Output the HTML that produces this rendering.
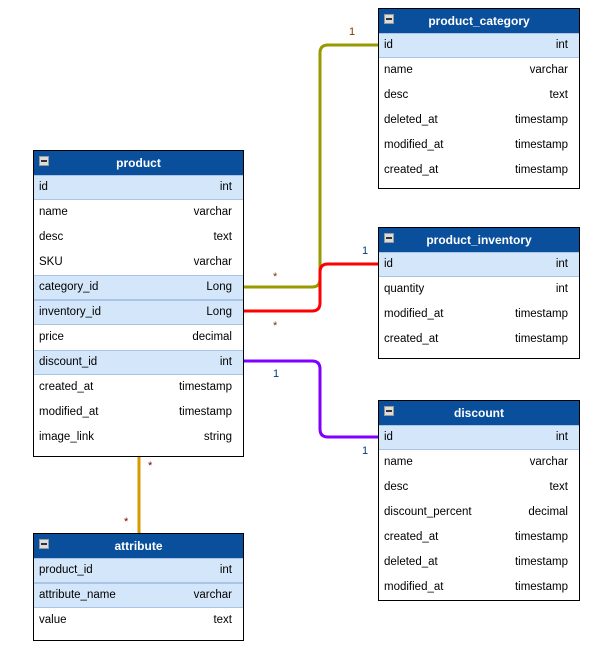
<!DOCTYPE html>
<html><head><style>
body{margin:0;width:594px;height:648px;background:#fff;position:relative;font-family:"Liberation Sans",Arial,sans-serif;font-size:11.5px;color:#000;overflow:hidden}
.t{position:absolute;background:#fff;border:1px solid #000;box-sizing:border-box}
.h{height:24px;background:#0a4f9c;color:#fff;font-weight:bold;font-size:12px;text-align:center;line-height:24px;position:relative}
.h i{position:absolute;left:5px;top:5px;width:8px;height:8px;background:#ddd;border:1px solid #999}
.h i:after{content:"";position:absolute;left:1px;top:3px;width:6px;height:2px;background:#333}
.r{height:25px;line-height:25px;padding:0 11px 0 5px;display:flex;justify-content:space-between}
.s{background:#d4e6fa;border-top:1px solid #a9c4e6;border-bottom:1px solid #a9c4e6;box-sizing:border-box;line-height:23px}
.l{position:absolute;font-size:11px}
</style></head><body>
<svg width="594" height="648" style="position:absolute;left:0;top:0" fill="none" stroke-width="3">
<path d="M244 287 H312 Q320 287 320 279 V53 Q320 45 328 45 H378" stroke="#999900"/>
<path d="M244 311 H312 Q320 311 320 303 V272 Q320 264 328 264 H378" stroke="#ff0000"/>
<path d="M244 361 H312 Q320 361 320 369 V429 Q320 437 328 437 H378" stroke="#8000ff"/>
<path d="M139 456 V533" stroke="#d79b00"/>
</svg>
<div class="l" style="left:349px;top:26px;color:#7a3800">1</div>
<div class="l" style="left:273px;top:271px;color:#7a3800">*</div>
<div class="l" style="left:362px;top:245px;color:#003a80">1</div>
<div class="l" style="left:273px;top:320px;color:#7a3800">*</div>
<div class="l" style="left:273px;top:368px;color:#003a80">1</div>
<div class="l" style="left:362px;top:445px;color:#003a80">1</div>
<div class="l" style="left:148px;top:460px;color:#7a0000">*</div>
<div class="l" style="left:124px;top:516px;color:#7a0000">*</div>

<div class="t" style="left:33px;top:150px;width:211px;height:307px">
<div class="h"><i></i>product</div>
<div class="r s"><span>id</span><span>int</span></div>
<div class="r"><span>name</span><span>varchar</span></div>
<div class="r"><span>desc</span><span>text</span></div>
<div class="r"><span>SKU</span><span>varchar</span></div>
<div class="r s"><span>category_id</span><span>Long</span></div>
<div class="r s"><span>inventory_id</span><span>Long</span></div>
<div class="r"><span>price</span><span>decimal</span></div>
<div class="r s"><span>discount_id</span><span>int</span></div>
<div class="r"><span>created_at</span><span>timestamp</span></div>
<div class="r"><span>modified_at</span><span>timestamp</span></div>
<div class="r"><span>image_link</span><span>string</span></div>
</div>

<div class="t" style="left:378px;top:8px;width:202px;height:181px">
<div class="h"><i></i>product_category</div>
<div class="r s"><span>id</span><span>int</span></div>
<div class="r"><span>name</span><span>varchar</span></div>
<div class="r"><span>desc</span><span>text</span></div>
<div class="r"><span>deleted_at</span><span>timestamp</span></div>
<div class="r"><span>modified_at</span><span>timestamp</span></div>
<div class="r"><span>created_at</span><span>timestamp</span></div>
</div>

<div class="t" style="left:378px;top:227px;width:202px;height:132px">
<div class="h"><i></i>product_inventory</div>
<div class="r s"><span>id</span><span>int</span></div>
<div class="r"><span>quantity</span><span>int</span></div>
<div class="r"><span>modified_at</span><span>timestamp</span></div>
<div class="r"><span>created_at</span><span>timestamp</span></div>
</div>

<div class="t" style="left:378px;top:400px;width:202px;height:201px">
<div class="h"><i></i>discount</div>
<div class="r s"><span>id</span><span>int</span></div>
<div class="r"><span>name</span><span>varchar</span></div>
<div class="r"><span>desc</span><span>text</span></div>
<div class="r"><span>discount_percent</span><span>decimal</span></div>
<div class="r"><span>created_at</span><span>timestamp</span></div>
<div class="r"><span>deleted_at</span><span>timestamp</span></div>
<div class="r"><span>modified_at</span><span>timestamp</span></div>
</div>

<div class="t" style="left:33px;top:533px;width:211px;height:108px">
<div class="h"><i></i>attribute</div>
<div class="r s"><span>product_id</span><span>int</span></div>
<div class="r s"><span>attribute_name</span><span>varchar</span></div>
<div class="r"><span>value</span><span>text</span></div>
</div>
</body></html>
